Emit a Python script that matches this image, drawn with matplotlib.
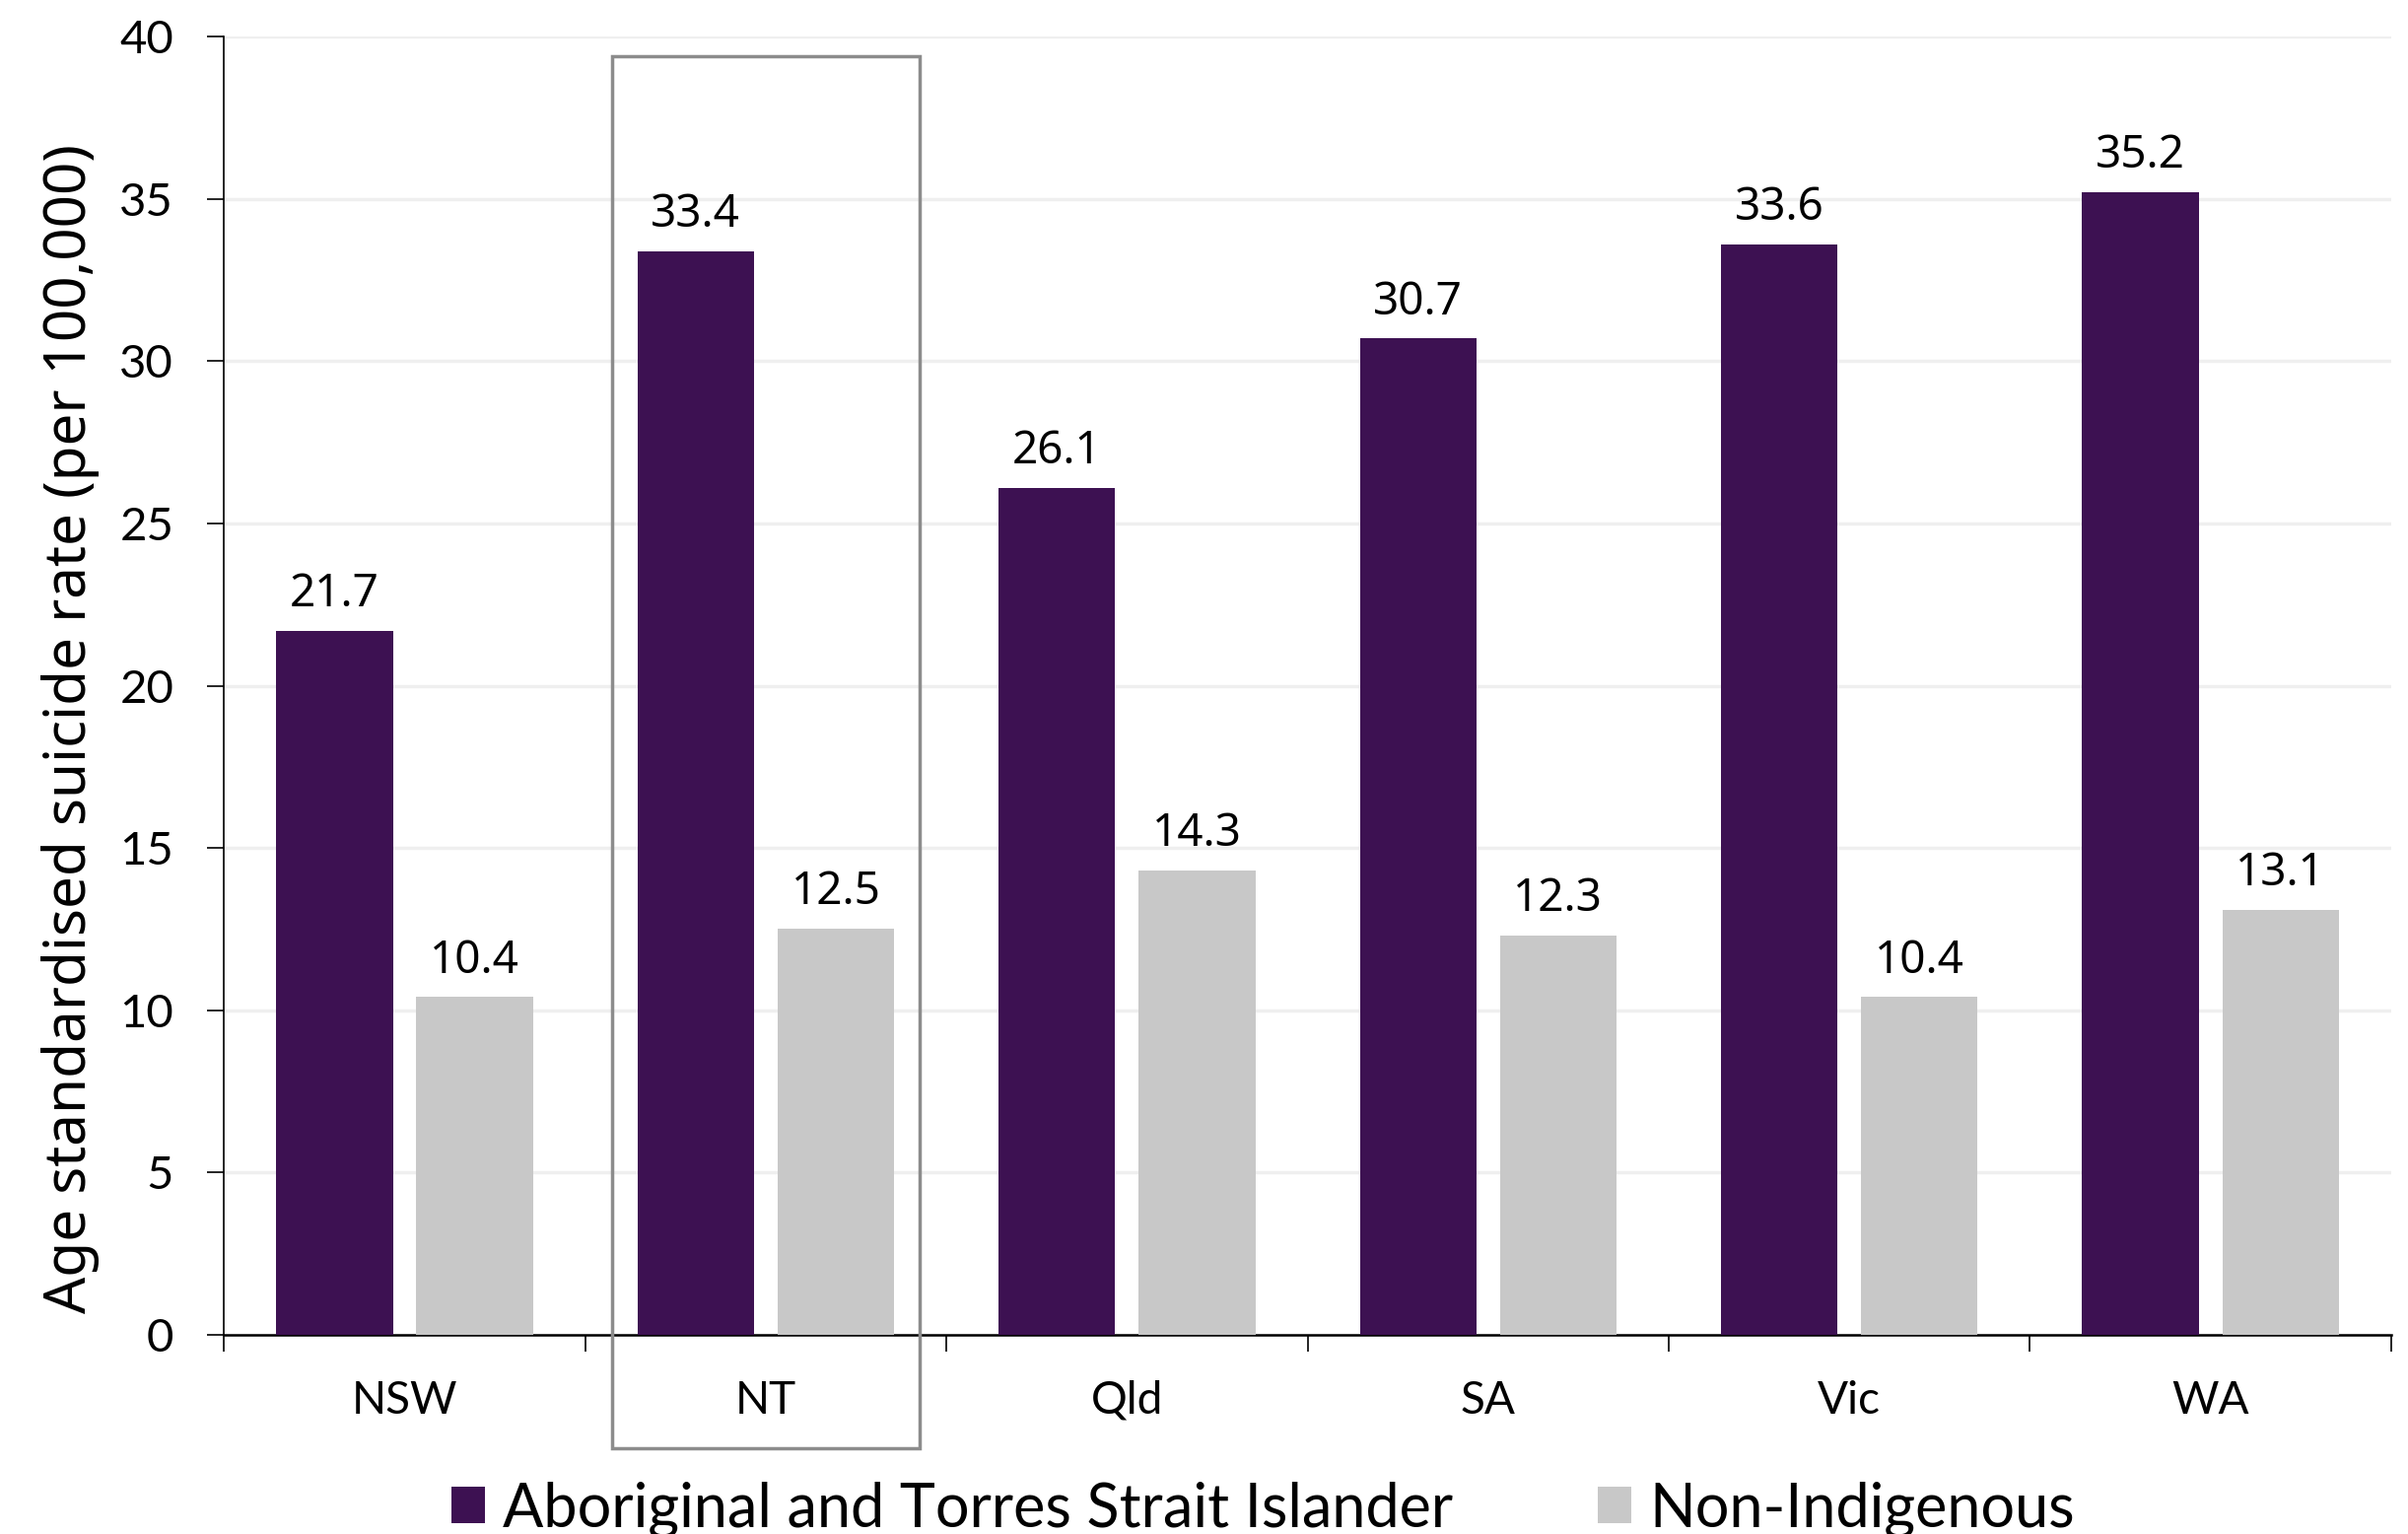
import matplotlib

matplotlib.use("Agg")
import matplotlib.pyplot as plt
from matplotlib.patches import Rectangle
import numpy as np

states = ["NSW", "NT", "Qld", "SA", "Vic", "WA"]
indigenous = [21.7, 33.4, 26.1, 30.7, 33.6, 35.2]
non_indigenous = [10.4, 12.5, 14.3, 12.3, 10.4, 13.1]
series_names = ["Aboriginal and Torres Strait Islander", "Non-Indigenous"]
y_ticks = [0, 5, 10, 15, 20, 25, 30, 35, 40]
highlight = "NT"

PURPLE = "#3D1152"
GREY = "#C8C8C8"
PX = 72 / 100  # points per pixel at dpi 100

fig = plt.figure(figsize=(24.43, 15.56), dpi=100)
ax = fig.add_axes([0.093, 0.130, 0.900, 0.846])

x = np.arange(len(states))
width = 0.323
offset = 0.194
b1 = ax.bar(x - offset, indigenous, width, color=PURPLE, label=series_names[0], zorder=3)
b2 = ax.bar(x + offset, non_indigenous, width, color=GREY, label=series_names[1], zorder=3)

for bars, vals in ((b1, indigenous), (b2, non_indigenous)):
    for bar, v in zip(bars, vals):
        ax.annotate(f"{v:.1f}", (bar.get_x() + bar.get_width() / 2, v),
                    xytext=(0, 10), textcoords="offset points", ha="center", va="bottom",
                    fontsize=33, family="Noto Sans", color="black", zorder=4)

ax.set_xlim(-0.5, len(states) - 0.5)
ax.set_ylim(0, 40)
ax.set_yticks(y_ticks)
ax.tick_params(axis="y", direction="out", length=17 * PX, width=1.2, pad=34 * PX,
               labelsize=34)
for lab in ax.get_yticklabels():
    lab.set_family("Lato")

# category boundaries as major ticks, names as minor ticks
ax.set_xticks(np.arange(len(states) + 1) - 0.5)
ax.set_xticklabels([])
ax.set_xticks(x, minor=True)
ax.set_xticklabels(states, minor=True, fontsize=33, family="Lato")
ax.tick_params(axis="x", which="major", direction="out", length=17 * PX, width=1.2)
ax.tick_params(axis="x", which="minor", length=0, pad=46 * PX)

ax.grid(axis="y", color="#EFEFEF", linewidth=2.5, zorder=0)
ax.set_axisbelow(True)
for s in ("top", "right"):
    ax.spines[s].set_visible(False)
ax.spines["left"].set_linewidth(1.2)
ax.spines["bottom"].set_linewidth(1.8)

ax.set_ylabel("Age standardised suicide rate (per 100,000)", fontsize=42,
              family="Noto Sans")
ax.yaxis.set_label_coords(-0.0575, 0.467)

# frame around the highlighted state
hi = states.index(highlight)
ax.add_patch(Rectangle((hi - 0.425, -3.5), 0.85, 42.9, transform=ax.transData,
                       fill=False, edgecolor="#8C8C8C", linewidth=2.5, clip_on=False, zorder=5))

leg = fig.legend(handles=[b1, b2], loc="center", bbox_to_anchor=(0.5245, 0.016),
                 ncol=2, frameon=False, prop={"family": "Lato", "size": 44},
                 handlelength=0.55, handleheight=0.55, handletextpad=0.3, columnspacing=2.4)

fig.savefig("out.png", dpi=100)
plt.close(fig)
